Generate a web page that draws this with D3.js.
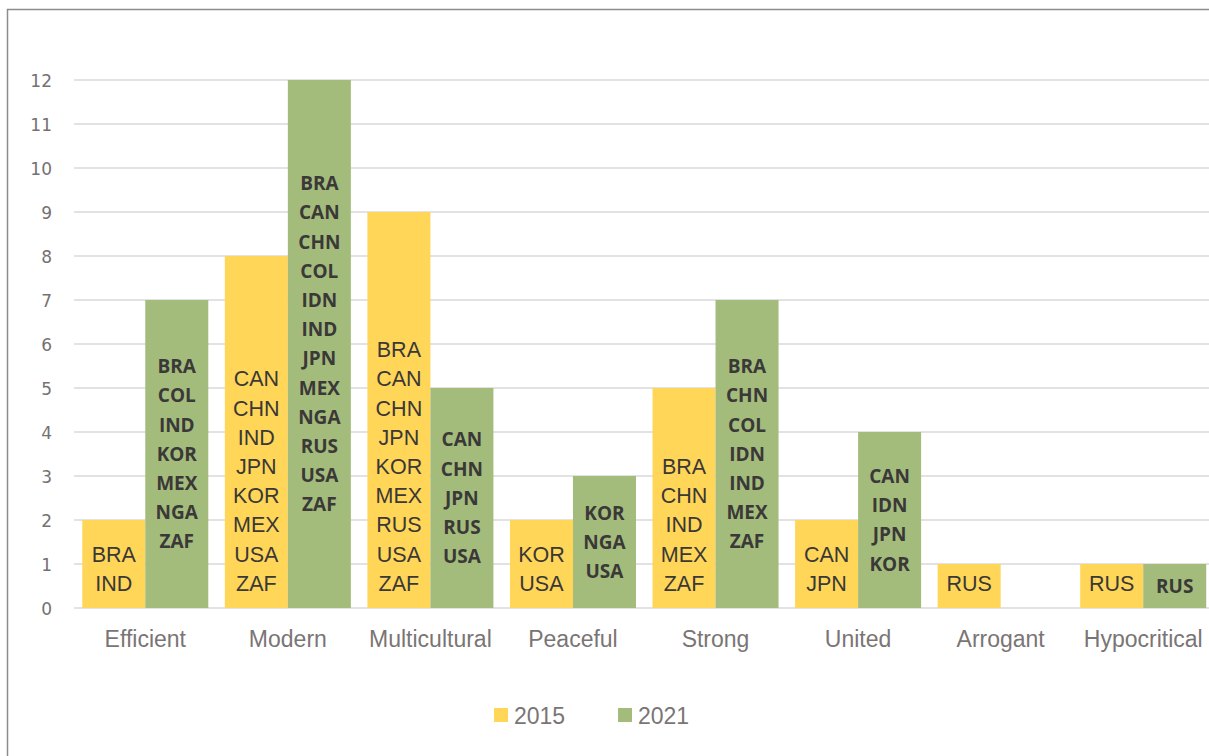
<html>
<head>
<meta charset="utf-8">
<title>Country adjectives</title>
<style>
body { margin: 0; background: #fff; }
.tick text { fill: #757171; }
</style>
</head>
<body>
<svg width="1209" height="756"></svg>
<script src="https://d3js.org/d3.v7.min.js"></script>
<script>

// data
var categories = ["Efficient", "Modern", "Multicultural", "Peaceful", "Strong", "United", "Arrogant", "Hypocritical"];
var years = ["2015", "2021"];
var values2015 = [2, 8, 9, 2, 5, 2, 1, 1];
var values2021 = [7, 12, 5, 3, 7, 4, 0, 1];
var labels2015 = [
  ["BRA", "IND"],
  ["CAN", "CHN", "IND", "JPN", "KOR", "MEX", "USA", "ZAF"],
  ["BRA", "CAN", "CHN", "JPN", "KOR", "MEX", "RUS", "USA", "ZAF"],
  ["KOR", "USA"],
  ["BRA", "CHN", "IND", "MEX", "ZAF"],
  ["CAN", "JPN"],
  ["RUS"],
  ["RUS"]
];
var labels2021 = [
  ["BRA", "COL", "IND", "KOR", "MEX", "NGA", "ZAF"],
  ["BRA", "CAN", "CHN", "COL", "IDN", "IND", "JPN", "MEX", "NGA", "RUS", "USA", "ZAF"],
  ["CAN", "CHN", "JPN", "RUS", "USA"],
  ["KOR", "NGA", "USA"],
  ["BRA", "CHN", "COL", "IDN", "IND", "MEX", "ZAF"],
  ["CAN", "IDN", "JPN", "KOR"],
  [],
  ["RUS"]
];
var yTicks = [0, 1, 2, 3, 4, 5, 6, 7, 8, 9, 10, 11, 12];

var colors = {"2015": "#FFD657", "2021": "#A3BC7C"};

var svg = d3.select("svg");

// frame
svg.append("path")
    .attr("d", "M7.5,756 V9.5 H1209")
    .attr("fill", "none")
    .attr("stroke", "#8c8c8c")
    .attr("stroke-width", 1.5);

var x0 = d3.scaleBand()
    .domain(categories)
    .range([74, 1214.5])
    .paddingInner(0.116)
    .paddingOuter(0.058);

var x1 = d3.scaleBand()
    .domain(years)
    .range([0, x0.bandwidth()]);

var y = d3.scaleLinear()
    .domain([0, 12])
    .range([608, 80]);

// gridlines
svg.append("g")
    .selectAll("line")
    .data(yTicks)
    .enter().append("line")
      .attr("x1", 74)
      .attr("x2", 1209)
      .attr("y1", function(d) { return y(d); })
      .attr("y2", function(d) { return y(d); })
      .attr("stroke", "#d9d9d9")
      .attr("stroke-width", 1.5);

// y axis labels
var yAxis = svg.append("g")
    .attr("transform", "translate(62,0)")
    .call(d3.axisLeft(y).tickValues(yTicks).tickSize(0).tickPadding(10));
yAxis.select(".domain").remove();
yAxis.selectAll("text")
    .attr("font-family", "'DejaVu Sans', sans-serif")
    .attr("font-size", 17)
    .attr("dy", "0.36em");

var rows = categories.map(function(c, i) {
  return {
    cat: c,
    bars: [
      {year: "2015", value: values2015[i], labels: labels2015[i]},
      {year: "2021", value: values2021[i], labels: labels2021[i]}
    ]
  };
});

var group = svg.selectAll(".cat")
    .data(rows)
    .enter().append("g")
      .attr("class", "cat")
      .attr("transform", function(d) { return "translate(" + x0(d.cat) + ",0)"; });

var bar = group.selectAll(".bar")
    .data(function(d) { return d.bars; })
    .enter().append("g")
      .attr("class", "bar");

bar.append("rect")
    .attr("x", function(d) { return x1(d.year); })
    .attr("y", function(d) { return y(d.value); })
    .attr("width", x1.bandwidth())
    .attr("height", function(d) { return y(0) - y(d.value); })
    .attr("fill", function(d) { return colors[d.year]; });

var lineH = 29.2;

// 2015 labels sit at the bar base, 2021 labels are centred in the bar
bar.append("text")
    .attr("text-anchor", "middle")
    .attr("fill", "#3b3838")
    .attr("font-family", function(d) { return d.year == "2015" ? "'Liberation Sans', sans-serif" : "'Open Sans', sans-serif"; })
    .attr("font-size", function(d) { return d.year == "2015" ? 21.5 : 19; })
    .attr("font-weight", function(d) { return d.year == "2015" ? "normal" : "bold"; })
  .selectAll("tspan")
  .data(function(d) {
    var n = d.labels.length;
    return d.labels.map(function(l, i) {
      var cy;
      if (d.year == "2015") cy = y(0) - 25 - (n - 1 - i) * lineH;
      else cy = (y(0) + y(d.value)) / 2 + (i - (n - 1) / 2) * lineH;
      return {text: l, x: x1(d.year) + x1.bandwidth() / 2, cy: cy};
    });
  })
  .enter().append("tspan")
    .attr("x", function(d) { return d.x; })
    .attr("y", function(d) { return d.cy; })
    .attr("dy", "0.36em")
    .text(function(d) { return d.text; });

// category labels
svg.append("g")
    .selectAll("text")
    .data(categories)
    .enter().append("text")
      .attr("x", function(d) { return x0(d) + x0.bandwidth() / 2; })
      .attr("y", 647)
      .attr("text-anchor", "middle")
      .attr("font-family", "'Liberation Sans', sans-serif")
      .attr("font-size", 23)
      .attr("fill", "#7a7575")
      .text(function(d) { return d; });

// legend
var legend = svg.append("g")
    .selectAll("g")
    .data(years)
    .enter().append("g")
      .attr("transform", function(d, i) { return "translate(" + (494 + i * 124) + ",708)"; });

legend.append("rect")
    .attr("width", 14)
    .attr("height", 14)
    .attr("fill", function(d) { return colors[d]; });

legend.append("text")
    .attr("x", 20)
    .attr("y", 16)
    .attr("font-family", "'Liberation Sans', sans-serif")
    .attr("font-size", 23)
    .attr("fill", "#7a7575")
    .text(function(d) { return d; });

</script>
</body>
</html>
